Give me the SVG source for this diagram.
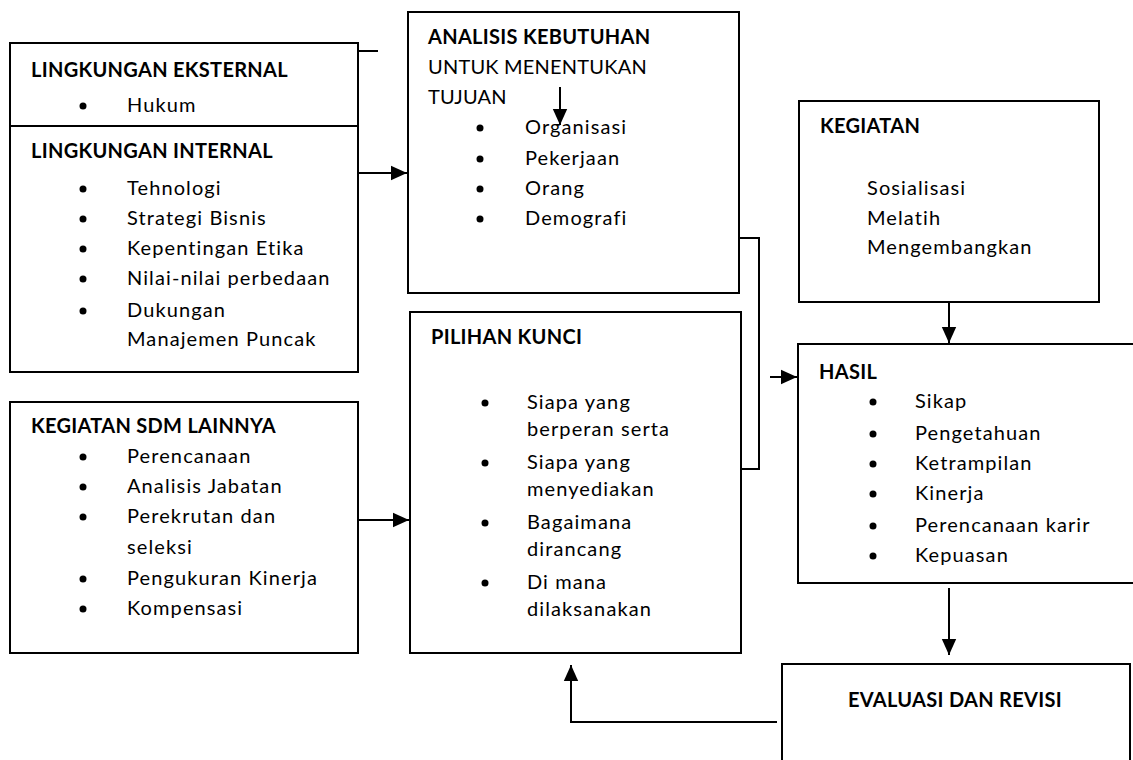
<svg xmlns="http://www.w3.org/2000/svg" width="1133" height="760" viewBox="0 0 1133 760">
<style>
text{font-family:Lato,"Liberation Sans",sans-serif;font-size:20px;fill:#000;letter-spacing:1.1px}
.b{font-weight:bold;letter-spacing:0.3px}
.u{letter-spacing:0.2px}
.box{fill:#fff;stroke:#000;stroke-width:2}
.ln{fill:none;stroke:#000;stroke-width:2}
</style>
<defs>
<marker id="ah2" viewBox="0 0 10 10" refX="10" refY="5" markerWidth="16" markerHeight="16" markerUnits="userSpaceOnUse" orient="auto">
<path d="M0,0.5 L10,5 L0,9.5 z" fill="#000"/>
</marker>
</defs>
<g id="ext">
<rect class="box" x="10" y="43" width="348" height="83"/>
<text class="b" x="31" y="77">LINGKUNGAN EKSTERNAL</text>
<circle cx="83" cy="106" r="3.5"/>
<text x="127" y="112">Hukum</text>
</g>
<g id="int">
<rect class="box" x="10" y="126" width="348" height="246"/>
<text class="b" x="31" y="158">LINGKUNGAN INTERNAL</text>
<circle cx="83" cy="189" r="3.5"/><text x="127" y="195">Tehnologi</text>
<circle cx="83" cy="219" r="3.5"/><text x="127" y="225">Strategi Bisnis</text>
<circle cx="83" cy="249" r="3.5"/><text x="127" y="255">Kepentingan Etika</text>
<circle cx="83" cy="279" r="3.5"/><text x="127" y="285">Nilai-nilai perbedaan</text>
<circle cx="83" cy="311" r="3.5"/><text x="127" y="317">Dukungan</text>
<text x="127" y="346">Manajemen Puncak</text>
</g>
<g id="sdm">
<rect class="box" x="10" y="402" width="348" height="251"/>
<text class="b" x="31" y="433">KEGIATAN SDM LAINNYA</text>
<circle cx="83" cy="457" r="3.5"/><text x="127" y="463">Perencanaan</text>
<circle cx="83" cy="487" r="3.5"/><text x="127" y="493">Analisis Jabatan</text>
<circle cx="83" cy="517" r="3.5"/><text x="127" y="523">Perekrutan dan</text>
<text x="127" y="554">seleksi</text>
<circle cx="83" cy="579" r="3.5"/><text x="127" y="585">Pengukuran Kinerja</text>
<circle cx="83" cy="609" r="3.5"/><text x="127" y="615">Kompensasi</text>
</g>
<g id="analisis">
<rect class="box" x="408" y="12" width="331" height="281"/>
<text class="b" x="428" y="44">ANALISIS KEBUTUHAN</text>
<text class="u" x="428" y="74">UNTUK MENENTUKAN</text>
<text class="u" x="428" y="104">TUJUAN</text>
<circle cx="480" cy="128" r="3.5"/><text x="525" y="134">Organisasi</text>
<circle cx="480" cy="159" r="3.5"/><text x="525" y="165">Pekerjaan</text>
<circle cx="480" cy="189" r="3.5"/><text x="525" y="195">Orang</text>
<circle cx="480" cy="219" r="3.5"/><text x="525" y="225">Demografi</text>
</g>
<g id="pilihan">
<rect class="box" x="410" y="312" width="331" height="341"/>
<text class="b" x="431" y="344">PILIHAN KUNCI</text>
<circle cx="485" cy="403" r="3.5"/><text x="527" y="409">Siapa yang</text>
<text x="527" y="436">berperan serta</text>
<circle cx="485" cy="463" r="3.5"/><text x="527" y="469">Siapa yang</text>
<text x="527" y="496">menyediakan</text>
<circle cx="485" cy="523" r="3.5"/><text x="527" y="529">Bagaimana</text>
<text x="527" y="556">dirancang</text>
<circle cx="485" cy="583" r="3.5"/><text x="527" y="589">Di mana</text>
<text x="527" y="616">dilaksanakan</text>
</g>
<g id="kegiatan">
<rect class="box" x="799" y="101" width="300" height="201"/>
<text class="b" x="820" y="133">KEGIATAN</text>
<text x="867" y="195">Sosialisasi</text>
<text x="867" y="225">Melatih</text>
<text x="867" y="254">Mengembangkan</text>
</g>
<g id="hasil">
<rect class="box" x="798" y="344" width="340" height="239"/>
<text class="b" x="819" y="379">HASIL</text>
<circle cx="873" cy="402" r="3.5"/><text x="915" y="408">Sikap</text>
<circle cx="873" cy="434" r="3.5"/><text x="915" y="440">Pengetahuan</text>
<circle cx="873" cy="464" r="3.5"/><text x="915" y="470">Ketrampilan</text>
<circle cx="873" cy="494" r="3.5"/><text x="915" y="500">Kinerja</text>
<circle cx="873" cy="526" r="3.5"/><text x="915" y="532">Perencanaan karir</text>
<circle cx="873" cy="556" r="3.5"/><text x="915" y="562">Kepuasan</text>
</g>
<g id="evaluasi">
<rect class="box" x="782" y="664" width="348" height="110"/>
<text class="b" x="848" y="707">EVALUASI DAN REVISI</text>
</g>
<g id="connectors">
<line class="ln" x1="358" y1="51" x2="378" y2="51"/>
<line class="ln" x1="358" y1="173" x2="407" y2="173" marker-end="url(#ah2)"/>
<line class="ln" x1="560" y1="87" x2="560" y2="125" marker-end="url(#ah2)"/>
<line class="ln" x1="358" y1="520" x2="409" y2="520" marker-end="url(#ah2)"/>
<polyline class="ln" points="739,238 759,238 759,469 741,469"/>
<line class="ln" x1="770" y1="377" x2="797" y2="377" marker-end="url(#ah2)"/>
<line class="ln" x1="949" y1="302" x2="949" y2="343" marker-end="url(#ah2)"/>
<line class="ln" x1="949" y1="588" x2="949" y2="655" marker-end="url(#ah2)"/>
<polyline class="ln" points="777,722 571,722 571,665" marker-end="url(#ah2)"/>
</g>
</svg>
